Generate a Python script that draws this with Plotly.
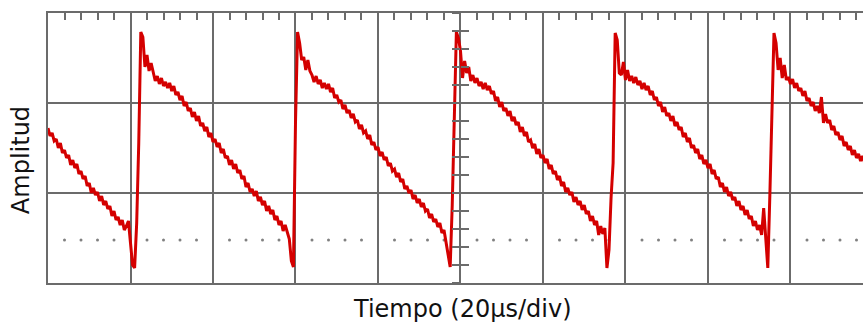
import plotly.graph_objects as go

# ---- data ----
# Sampled trace: one sample every 0.5 us starting at t = 0 us.
# Amplitude in ADC counts (90 counts per vertical division).
SAMPLE_US = 0.5
amplitude_counts = [
    # t = 0 .. 19 us
    155, 147, 150, 142, 144, 135, 140, 130, 133, 125, 128, 118, 123, 115, 119, 109, 112, 104, 107, 97,
    100, 90, 95, 88, 91, 82, 87, 78, 82, 74, 77, 67, 72, 63, 66, 58, 63, 53, 57,
    # t = 19.5 .. 25 us (first trigger edge)
    62, 40, 18, 15, 60, 140, 251, 246, 216, 228, 212, 220,
    # t = 25.5 .. 57.5 us
    211, 202, 207, 199, 205, 197, 201, 195, 200, 192, 197, 188, 191, 183, 187, 177, 181, 172, 175, 166,
    171, 162, 167, 157, 160, 152, 156, 146, 150, 141, 144, 136, 140, 130, 134, 125, 127, 118, 123, 114,
    119, 110, 113, 104, 107, 96, 100, 91, 94, 87, 92, 82, 86, 78, 82, 72, 77, 69, 73, 63,
    67, 58, 62, 52, 58,
    # t = 58 .. 63.5 us
    50, 44, 22, 16, 160, 251, 240, 223, 226, 213, 223, 212,
    # t = 64 .. 96 us
    208, 201, 207, 199, 203, 195, 200, 194, 199, 191, 195, 185, 188, 181, 183, 174, 178, 170, 173, 165,
    169, 161, 163, 154, 158, 150, 152, 144, 148, 138, 141, 133, 136, 127, 131, 123, 126, 117, 120, 112,
    114, 106, 110, 101, 104, 94, 97, 90, 93, 84, 88, 80, 84, 76, 80, 72, 74, 65, 69, 61,
    64, 56, 60, 50, 53,
    # t = 96.5 .. 102 us
    40, 30, 16, 78, 170, 251, 245, 232, 205, 222, 210, 216,
    # t = 102.5 .. 134.5 us
    202, 208, 200, 205, 197, 201, 194, 200, 193, 197, 189, 192, 182, 186, 176, 181, 172, 175, 167, 172,
    162, 166, 158, 161, 151, 156, 147, 151, 141, 143, 135, 139, 129, 134, 125, 128, 120, 124, 114, 118,
    109, 112, 103, 107, 97, 101, 91, 95, 88, 91, 81, 86, 78, 82, 73, 78, 69, 72, 62, 67,
    58, 62, 48, 57, 49,
    # t = 135 .. 140.5 us
    55, 15, 33, 85, 120, 250, 243, 210, 208, 221, 203, 213,
    # t = 141 .. 173 us
    202, 207, 200, 206, 198, 202, 194, 200, 193, 197, 188, 192, 183, 186, 177, 181, 171, 176, 167, 170,
    162, 167, 157, 161, 153, 156, 146, 150, 141, 145, 135, 138, 130, 134, 124, 128, 119, 123, 115, 119,
    109, 113, 104, 106, 96, 100, 91, 96, 87, 91, 83, 86, 77, 82, 73, 77, 68, 73, 64, 67,
    57, 62, 53, 58, 48,
    # t = 173.5 .. 179 us
    75, 40, 15, 88, 172, 250, 240, 213, 225, 205, 218, 203,
    # t = 179.5 .. 198 us
    206, 199, 204, 195, 200, 192, 195, 187, 192, 182, 185, 177, 181, 172, 177, 170, 186, 160, 169, 160,
    163, 153, 157, 148, 151, 143, 147, 137, 141, 133, 137, 128, 133, 125, 129, 122, 127, 120,
]
time_us = [i * SAMPLE_US for i in range(len(amplitude_counts))]

# ---- graticule ----
X_RANGE = [0, 197.58]      # visible window, us (20 us/div)
Y_RANGE = [0, 270]         # counts (90 counts/div, 3 divisions)
X_DIV = 20
X_MINOR = 4
Y_DIV = 90
Y_MINOR = 18
CENTER_T = 100
DOT_LEVEL = 43

X_TITLE = "Tiempo (20µs/div)"
Y_TITLE = "Amplitud"

GRID = "#6b6b6b"
TRACE = "#d40000"
FONT = "DejaVu Sans"

dot_t = [t for t in range(X_MINOR, int(X_RANGE[1]) + 1, X_MINOR) if t % X_DIV != 0]
dot_y = [DOT_LEVEL] * len(dot_t)

fig = go.Figure()

fig.add_trace(go.Scatter(x=dot_t, y=dot_y, mode="markers",
                         marker=dict(size=3, color="#808080"),
                         hoverinfo="skip", showlegend=False))
fig.add_trace(go.Scatter(x=time_us, y=amplitude_counts, mode="lines",
                         line=dict(color=TRACE, width=3),
                         showlegend=False))
# helper traces so the overlay axes are drawn
fig.add_trace(go.Scatter(x=[None], y=[None], xaxis="x2", yaxis="y", showlegend=False))
fig.add_trace(go.Scatter(x=[None], y=[None], xaxis="x", yaxis="y2", showlegend=False))
fig.add_trace(go.Scatter(x=[None], y=[None], xaxis="x", yaxis="y3", showlegend=False))

plot_w = 863 - 48
center_pos = (CENTER_T - X_RANGE[0]) / (X_RANGE[1] - X_RANGE[0])

fig.update_layout(
    width=863, height=322,
    margin=dict(l=48, r=0, t=13, b=39),
    paper_bgcolor="white", plot_bgcolor="white",
    showlegend=False,
    xaxis=dict(range=X_RANGE, tick0=0, dtick=X_DIV, showgrid=True, gridcolor=GRID, gridwidth=2,
               showline=True, linecolor=GRID, linewidth=2, mirror=True,
               ticks="", showticklabels=False, zeroline=False, fixedrange=True),
    xaxis2=dict(range=X_RANGE, overlaying="x", side="top", anchor="y", tick0=0, dtick=X_MINOR,
                ticks="inside", ticklen=7, tickwidth=2, tickcolor=GRID,
                showgrid=False, showline=False, showticklabels=False, zeroline=False),
    yaxis=dict(range=Y_RANGE, tick0=0, dtick=Y_DIV, showgrid=True, gridcolor=GRID, gridwidth=2,
               showline=True, linecolor=GRID, linewidth=2, mirror=False,
               ticks="", showticklabels=False, zeroline=False, fixedrange=True),
    yaxis2=dict(range=Y_RANGE, overlaying="y", anchor="free", position=center_pos, side="left",
                tick0=0, dtick=Y_MINOR, ticks="outside", ticklen=8, tickwidth=2, tickcolor=GRID,
                showgrid=False, showline=False, showticklabels=False, zeroline=False),
    yaxis3=dict(range=Y_RANGE, overlaying="y", anchor="free", position=center_pos, side="left",
                tick0=0, dtick=Y_MINOR, ticks="inside", ticklen=8, tickwidth=2, tickcolor=GRID,
                showgrid=False, showline=False, showticklabels=False, zeroline=False),
    annotations=[
        dict(text=X_TITLE, xref="paper", yref="paper", x=(462.5 - 48) / plot_w, y=-0.097,
             xanchor="center", yanchor="middle", showarrow=False,
             font=dict(family=FONT, size=24, color="#111111")),
        dict(text=Y_TITLE, xref="paper", yref="paper", x=(21 - 48) / plot_w, y=0.455,
             xanchor="center", yanchor="middle", textangle=-90, showarrow=False,
             font=dict(family=FONT, size=24, color="#111111")),
    ],
)

fig.write_html("out.html")
